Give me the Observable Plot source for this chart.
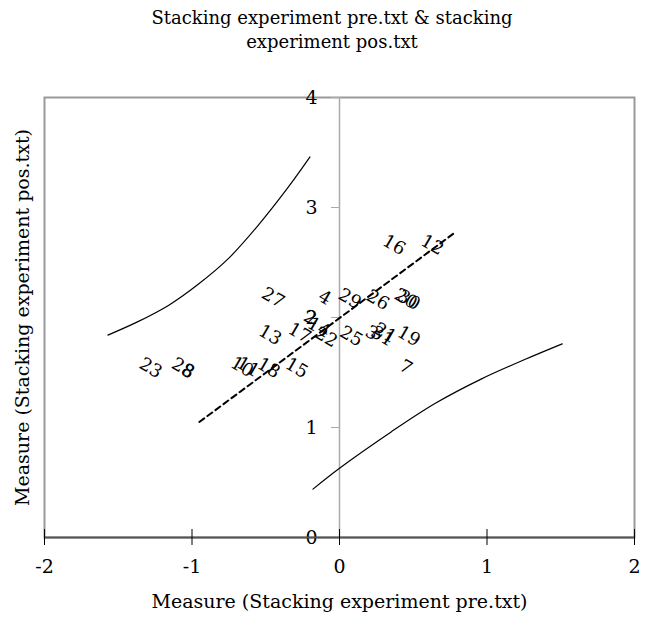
<!DOCTYPE html>
<html>
<head>
<meta charset="utf-8">
<script src="https://cdn.jsdelivr.net/npm/d3@7"></script>
<script src="https://cdn.jsdelivr.net/npm/@observablehq/plot@0.6"></script>
<style>
  html, body { margin: 0; padding: 0; background: #fff; }
  #title {
    width: 652px; height: 80px; box-sizing: border-box; padding-top: 6px;
    text-align: center; font-family: "DejaVu Serif", serif; font-size: 18px;
    line-height: 24px; color: #000;
  }
  #title div { padding-left: 12px; }
</style>
</head>
<body>
<div id="title"><div>Stacking experiment pre.txt &amp; stacking</div><div>experiment pos.txt</div></div>
<div id="chart"></div>
<script>
// Case labels with their pre (x) and post (y) measures
const caseLabels = ["23", "28", "8", "10", "11", "18", "15", "13", "17", "27", "4", "2", "14", "22", "25", "29", "26", "20", "30", "16", "12", "3", "31", "21", "19", "7"];
const preMeasure = [-1.28, -1.06, -1.03, -0.66, -0.62, -0.48, -0.29, -0.47, -0.27, -0.45, -0.10, -0.20, -0.14, -0.09, 0.08, 0.07, 0.26, 0.45, 0.47, 0.37, 0.63, 0.22, 0.29, 0.31, 0.47, 0.45];
const postMeasure = [1.54, 1.54, 1.51, 1.55, 1.55, 1.54, 1.54, 1.84, 1.86, 2.18, 2.18, 2.00, 1.91, 1.82, 1.83, 2.17, 2.16, 2.17, 2.16, 2.66, 2.66, 1.86, 1.83, 1.86, 1.83, 1.55];

// Identity (trend) line end points
const trendX = [-0.95, 0.77];
const trendY = [1.05, 2.76];

// Upper and lower control curves
const upperX = [-1.57, -1.37, -1.16, -0.96, -0.75, -0.55, -0.35, -0.20];
const upperY = [1.84, 1.96, 2.11, 2.30, 2.54, 2.84, 3.18, 3.46];
const lowerX = [-0.18, 0.00, 0.35, 0.65, 0.96, 1.26, 1.51];
const lowerY = [0.44, 0.63, 0.96, 1.22, 1.44, 1.62, 1.76];

// Axis ticks
const xTicks = [-2, -1, 0, 1, 2];
const yTicks = [0, 1, 2, 3, 4];

const points = caseLabels.map((label, i) => ({label, x: preMeasure[i], y: postMeasure[i]}));
const trend = trendX.map((x, i) => ({x, y: trendY[i]}));
const upper = upperX.map((x, i) => ({x, y: upperY[i]}));
const lower = lowerX.map((x, i) => ({x, y: lowerY[i]}));

const serif = "DejaVu Serif, serif";

const chart = Plot.plot({
  width: 652,
  height: 540,
  marginTop: 17,
  marginBottom: 83,
  marginLeft: 44,
  marginRight: 18,
  style: {fontFamily: serif, fontSize: "18px", color: "#000", background: "#fff", overflow: "visible"},
  x: {domain: [-2, 2], axis: null},
  y: {domain: [0, 4], axis: null},
  marks: [
    Plot.frame({stroke: "#999", strokeWidth: 2}),
    // vertical zero line acting as the y axis
    Plot.ruleX([0], {stroke: "#aaa", strokeWidth: 1.5}),
    Plot.ruleY(yTicks, {y: d => d, x1: () => 0, x2: () => 0, insetLeft: -8, stroke: "#aaa"}),
    Plot.text(yTicks, {x: () => 0, y: d => d, text: d => String(d), textAnchor: "end", dx: -22, fontSize: 19}),
    // x axis along y = 0
    Plot.ruleY([0], {stroke: "#555", strokeWidth: 2}),
    Plot.axisX(xTicks, {tickSize: 16, dy: -8, tickPadding: 14, fontSize: 19, stroke: "#000", label: null, tickFormat: d => String(d)}),
    Plot.text(["Measure (Stacking experiment pre.txt)"], {frameAnchor: "bottom", dy: 70, fontSize: 19}),
    Plot.text(["Measure (Stacking experiment pos.txt)"], {frameAnchor: "left", textAnchor: "middle", rotate: -90, dx: -22, fontSize: 19}),
    // control curves and trend line
    Plot.line(upper, {x: "x", y: "y", curve: "catmull-rom", stroke: "#000", strokeWidth: 1.2}),
    Plot.line(lower, {x: "x", y: "y", curve: "catmull-rom", stroke: "#000", strokeWidth: 1.2}),
    Plot.line(trend, {x: "x", y: "y", stroke: "#000", strokeWidth: 2, strokeDasharray: "6,4"}),
    // case labels
    Plot.text(points, {x: "x", y: "y", text: "label", rotate: 30, fontSize: 18, fill: "#000"})
  ]
});
document.getElementById("chart").appendChild(chart);
</script>
</body>
</html>
